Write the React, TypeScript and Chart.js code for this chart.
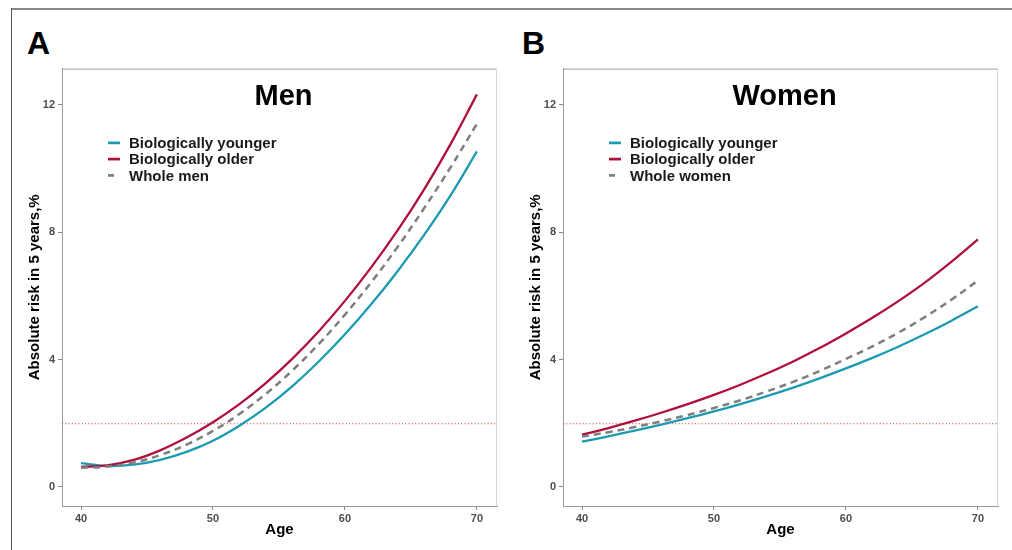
import React, { useEffect, useRef } from "react";
import { Chart, registerables } from "chart.js";

Chart.register(...registerables);

const AGES = [40, 42, 44, 46, 48, 50, 52, 54, 56, 58, 60, 62, 64, 66, 68, 70];

const MEN_YOUNGER = [0.75, 0.66, 0.7, 0.85, 1.1, 1.45, 1.92, 2.49, 3.16, 3.93, 4.79, 5.74, 6.78, 7.91, 9.15, 10.53];
const MEN_OLDER = [0.63, 0.68, 0.85, 1.15, 1.55, 2.03, 2.6, 3.26, 4.02, 4.88, 5.84, 6.9, 8.06, 9.34, 10.76, 12.32];
const MEN_WHOLE = [0.6, 0.64, 0.77, 1.0, 1.33, 1.76, 2.29, 2.92, 3.65, 4.48, 5.41, 6.43, 7.54, 8.75, 10.03, 11.4];

const WOMEN_YOUNGER = [1.42, 1.59, 1.77, 1.96, 2.16, 2.37, 2.6, 2.85, 3.12, 3.41, 3.72, 4.05, 4.41, 4.8, 5.22, 5.67];
const WOMEN_OLDER = [1.64, 1.85, 2.08, 2.33, 2.6, 2.89, 3.21, 3.56, 3.94, 4.36, 4.82, 5.31, 5.84, 6.42, 7.07, 7.77];
const WOMEN_WHOLE = [1.58, 1.72, 1.88, 2.06, 2.26, 2.48, 2.72, 3.0, 3.3, 3.64, 4.02, 4.41, 4.85, 5.34, 5.88, 6.48];

const X_TICKS = [40, 50, 60, 70];
const Y_TICKS = [0, 4, 8, 12];
const THRESHOLD = 2;

const LABEL_YOUNGER = "Biologically younger";
const LABEL_OLDER = "Biologically older";
const X_TITLE = "Age";
const Y_TITLE = "Absolute risk in 5 years,%";

const TEAL = "#1a9bb2";
const CRIMSON = "#b00f3c";
const GRAY = "#7f7f7f";
const FONT = "'Liberation Sans', Arial, Helvetica, sans-serif";

type PanelProps = {
  left: number;
  title: string;
  wholeLabel: string;
  younger: number[];
  older: number[];
  whole: number[];
};

function Panel({ left, title, wholeLabel, younger, older, whole }: PanelProps) {
  const ref = useRef<HTMLCanvasElement>(null);

  useEffect(() => {
    if (!ref.current) return;
    const pts = (arr: number[]) => AGES.map((a, i) => ({ x: a, y: arr[i] }));

    const decor = {
      id: "decor",
      beforeDatasetsDraw(chart: any) {
        const { ctx, chartArea } = chart;
        const y = chart.scales.y.getPixelForValue(THRESHOLD);
        ctx.save();
        ctx.strokeStyle = "rgba(225,30,30,0.95)";
        ctx.lineWidth = 1;
        ctx.setLineDash([1, 2.3]);
        ctx.beginPath();
        ctx.moveTo(chartArea.left, y + 0.5);
        ctx.lineTo(chartArea.right, y + 0.5);
        ctx.stroke();
        ctx.restore();
      },
      afterDraw(chart: any) {
        const { ctx, chartArea } = chart;
        ctx.save();
        ctx.lineWidth = 1;
        ctx.strokeStyle = "#a0a0a0";
        ctx.beginPath();
        ctx.moveTo(chartArea.left, chartArea.top + 0.5);
        ctx.lineTo(chartArea.right, chartArea.top + 0.5);
        ctx.stroke();
        ctx.strokeStyle = "#d8d8d8";
        ctx.beginPath();
        ctx.moveTo(chartArea.right - 0.5, chartArea.top);
        ctx.lineTo(chartArea.right - 0.5, chartArea.bottom);
        ctx.stroke();

        ctx.fillStyle = "#000";
        ctx.font = `bold 29px ${FONT}`;
        ctx.textAlign = "center";
        ctx.textBaseline = "alphabetic";
        ctx.fillText(title, (chartArea.left + chartArea.right) / 2 + 4, chartArea.top + 36);

        const items = [
          { label: LABEL_YOUNGER, color: TEAL, dashed: false },
          { label: LABEL_OLDER, color: CRIMSON, dashed: false },
          { label: wholeLabel, color: GRAY, dashed: true },
        ];
        const sx = chartArea.left + 46;
        const tx = chartArea.left + 67;
        const rows = [74.3, 90.5, 106.8];
        ctx.font = `bold 15px ${FONT}`;
        ctx.textAlign = "left";
        ctx.textBaseline = "middle";
        items.forEach((it, i) => {
          const yy = chartArea.top + rows[i];
          ctx.strokeStyle = it.color;
          ctx.lineWidth = 2.7;
          ctx.setLineDash([]);
          ctx.beginPath();
          ctx.moveTo(sx, yy);
          ctx.lineTo(sx + (it.dashed ? 6 : 12), yy);
          ctx.stroke();
          ctx.fillStyle = "#1a1a1a";
          ctx.fillText(it.label, tx, yy + 1);
        });
        ctx.restore();
      },
    };

    const tickFont = { family: FONT, size: 11, weight: "bold" as const };
    const titleFont = { family: FONT, size: 15, weight: "bold" as const };

    const chart = new Chart(ref.current, {
      type: "line",
      data: {
        datasets: [
          {
            label: LABEL_YOUNGER,
            data: pts(younger),
            borderColor: TEAL,
            borderWidth: 2.3,
            pointRadius: 0,
            tension: 0.4,
            order: 2,
          },
          {
            label: LABEL_OLDER,
            data: pts(older),
            borderColor: CRIMSON,
            borderWidth: 2.3,
            pointRadius: 0,
            tension: 0.4,
            order: 1,
          },
          {
            label: wholeLabel,
            data: pts(whole),
            borderColor: GRAY,
            borderWidth: 2.5,
            borderDash: [7, 5],
            pointRadius: 0,
            tension: 0.4,
            order: 0,
          },
        ],
      },
      options: {
        responsive: false,
        animation: false,
        layout: { padding: { top: 7, right: 8, left: 0, bottom: 0 } },
        plugins: { legend: { display: false }, tooltip: { enabled: false }, title: { display: false } },
        scales: {
          x: {
            type: "linear",
            min: 38.56,
            max: 71.52,
            afterBuildTicks: (s: any) => {
              s.ticks = X_TICKS.map((v) => ({ value: v }));
            },
            afterFit: (s: any) => {
              s.height = 44;
            },
            ticks: { font: tickFont, color: "#4d4d4d", padding: 2, maxRotation: 0, autoSkip: false },
            grid: { display: true, drawOnChartArea: false, drawTicks: true, tickLength: 4, color: "#888" },
            border: { display: true, color: "#9a9a9a", width: 1 },
            title: { display: true, text: X_TITLE, font: titleFont, color: "#000", padding: { top: 0, bottom: 11 } },
          },
          y: {
            type: "linear",
            min: -0.597,
            max: 13.13,
            afterBuildTicks: (s: any) => {
              s.ticks = Y_TICKS.map((v) => ({ value: v }));
            },
            afterFit: (s: any) => {
              s.width = 50;
            },
            ticks: { font: tickFont, color: "#4d4d4d", padding: 3, autoSkip: false },
            grid: { display: true, drawOnChartArea: false, drawTicks: true, tickLength: 4, color: "#888" },
            border: { display: true, color: "#9a9a9a", width: 1 },
            title: { display: true, text: Y_TITLE, font: titleFont, color: "#000", padding: { top: 14, bottom: 0 } },
          },
        },
      },
      plugins: [decor],
    } as any);
    return () => chart.destroy();
  }, []);

  return (
    <canvas
      ref={ref}
      width={493}
      height={491}
      style={{ position: "absolute", left, top: 59, width: 493, height: 491 }}
    />
  );
}

export default function App() {
  const letter: React.CSSProperties = {
    position: "absolute",
    top: 27,
    fontFamily: FONT,
    fontWeight: "bold",
    fontSize: 32,
    lineHeight: "32px",
    color: "#000",
  };
  return (
    <div
      style={{
        position: "absolute",
        left: 0,
        top: 0,
        width: 1012,
        height: 550,
        background: "#fff",
        overflow: "hidden",
      }}
    >
      <div style={{ position: "absolute", left: 11, top: 8, width: 1001, height: 2, background: "#888" }} />
      <div style={{ position: "absolute", left: 11, top: 8, width: 1, height: 542, background: "#555" }} />
      <div style={{ ...letter, left: 27 }}>A</div>
      <div style={{ ...letter, left: 522 }}>B</div>
      <Panel left={12} title="Men" wholeLabel="Whole men" younger={MEN_YOUNGER} older={MEN_OLDER} whole={MEN_WHOLE} />
      <Panel left={513} title="Women" wholeLabel="Whole women" younger={WOMEN_YOUNGER} older={WOMEN_OLDER} whole={WOMEN_WHOLE} />
    </div>
  );
}
